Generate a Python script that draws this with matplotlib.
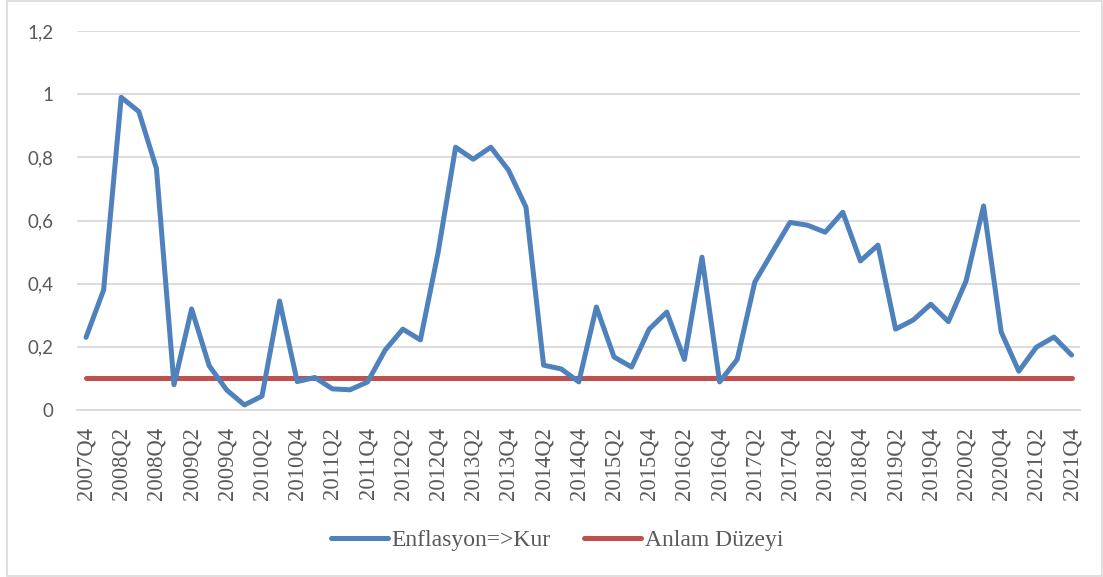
import matplotlib.pyplot as plt
from matplotlib.patches import Rectangle

# quarters 2007Q4 .. 2021Q4
quarters = ["2007Q4"] + ["%dQ%d" % (y, q) for y in range(2008, 2022) for q in (1, 2, 3, 4)]

enflasyon_kur = [0.23, 0.38, 0.99, 0.945, 0.765, 0.08, 0.32, 0.14, 0.063, 0.016,
                 0.044, 0.345, 0.09, 0.103, 0.067, 0.064, 0.089, 0.19, 0.256, 0.222,
                 0.497, 0.832, 0.794, 0.832, 0.76, 0.642, 0.142, 0.13, 0.089, 0.326,
                 0.168, 0.136, 0.256, 0.31, 0.16, 0.484, 0.089, 0.16, 0.405, 0.50,
                 0.594, 0.585, 0.563, 0.626, 0.472, 0.522, 0.256, 0.285, 0.335, 0.28,
                 0.408, 0.646, 0.247, 0.123, 0.199, 0.231, 0.174]
anlam_duzeyi = [0.1] * len(quarters)

y_ticks = [0, 0.2, 0.4, 0.6, 0.8, 1.0, 1.2]
y_labels = ["0", "0,2", "0,4", "0,6", "0,8", "1", "1,2"]

blue = "#4F81BD"
red = "#C0504D"
grid = "#D9D9D9"
txt = "#595959"

fig = plt.figure(figsize=(11.03, 5.77), dpi=100)
fig.patches.append(Rectangle((7 / 1103, 0.002), 1 - 8 / 1103, 0.996, transform=fig.transFigure,
                             fill=False, edgecolor=grid, linewidth=1.2))
ax = fig.add_axes([0.070, 0.2894, 0.9095, 0.6569])

x = list(range(len(quarters)))
ax.plot(x, enflasyon_kur, color=blue, linewidth=3.6, solid_capstyle="round",
        solid_joinstyle="round", label="Enflasyon=>Kur", zorder=3)
ax.plot(x, anlam_duzeyi, color=red, linewidth=3.6, solid_capstyle="round",
        label="Anlam Düzeyi", zorder=2)

ax.set_xlim(-0.5, len(quarters) - 0.5)
ax.set_ylim(0, 1.2)
ax.set_yticks(y_ticks)
ax.set_yticklabels(y_labels, fontfamily="Lato", fontsize=13.5, color=txt)
ax.set_xticks(x[::2])
ax.set_xticklabels(quarters[::2], rotation=90, fontfamily="Liberation Serif",
                   fontsize=16.3, color=txt)
ax.tick_params(axis="x", length=0, pad=12)
ax.tick_params(axis="y", length=0, pad=17)
ax.grid(axis="y", color=grid, linewidth=1.3)
ax.set_axisbelow(True)
for s in ["top", "right", "left"]:
    ax.spines[s].set_visible(False)
ax.spines["bottom"].set_color(grid)
ax.spines["bottom"].set_linewidth(1.3)

leg = fig.legend(loc="center", bbox_to_anchor=(557 / 1103, 1 - 540 / 577), ncol=2,
                 frameon=False, handlelength=2.4, handletextpad=0.15, columnspacing=1.45,
                 prop={"family": "Liberation Serif", "size": 17})
for t in leg.get_texts():
    t.set_color(txt)

fig.savefig("out.png", dpi=100)
